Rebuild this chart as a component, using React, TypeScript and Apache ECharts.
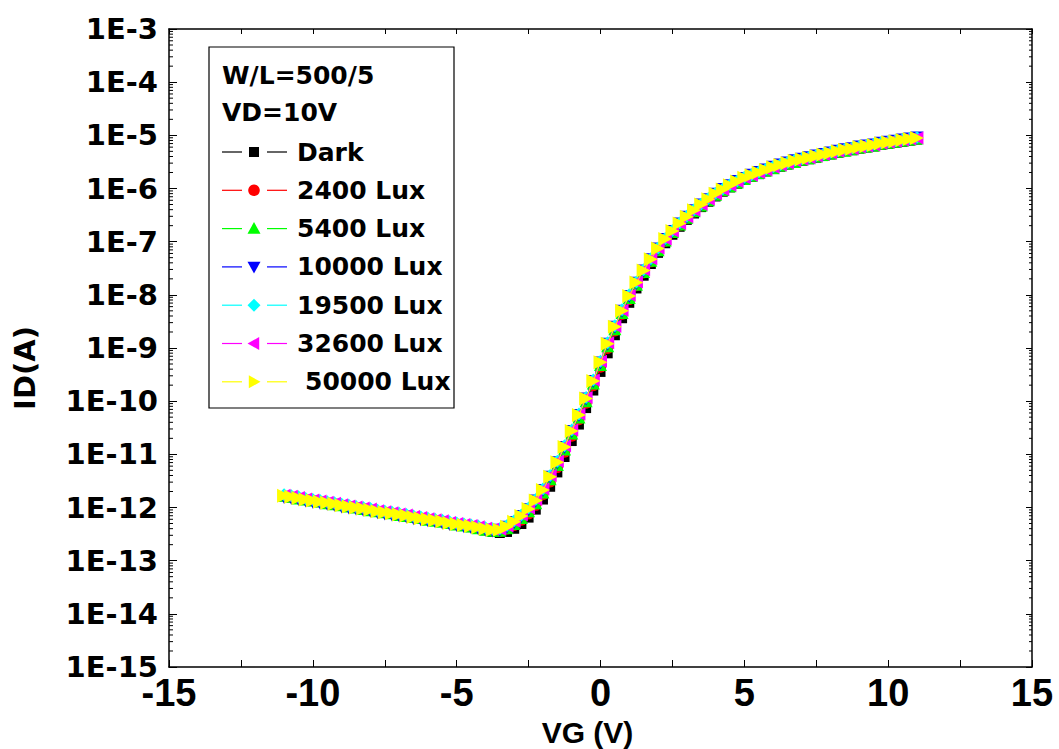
import React, { useEffect, useRef } from "react";
import * as echarts from "echarts";

// Gate voltage (V)
const VG = [
  -11, -10.75, -10.5, -10.25, -10, -9.75, -9.5, -9.25, -9, -8.75, -8.5, -8.25, -8, -7.75, -7.5, -7.25,
  -7, -6.75, -6.5, -6.25, -6, -5.75, -5.5, -5.25, -5, -4.75, -4.5, -4.25, -4, -3.75, -3.5, -3.25,
  -3, -2.75, -2.5, -2.25, -2, -1.75, -1.5, -1.25, -1, -0.75, -0.5, -0.25, 0, 0.25, 0.5, 0.75,
  1, 1.25, 1.5, 1.75, 2, 2.25, 2.5, 2.75, 3, 3.25, 3.5, 3.75, 4, 4.25, 4.5, 4.75,
  5, 5.25, 5.5, 5.75, 6, 6.25, 6.5, 6.75, 7, 7.25, 7.5, 7.75, 8, 8.25, 8.5, 8.75,
  9, 9.25, 9.5, 9.75, 10, 10.25, 10.5, 10.75, 11,
];

// log10(ID / A) for each illumination level
const DARK = [
  -11.79, -11.81, -11.83, -11.86, -11.88, -11.90, -11.92, -11.94, -11.97, -11.99, -12.01, -12.03, -12.05, -12.08, -12.10, -12.12,
  -12.14, -12.16, -12.19, -12.21, -12.23, -12.25, -12.27, -12.30, -12.32, -12.34, -12.37, -12.40, -12.43,
  -12.46, -12.48, -12.46, -12.40, -12.31, -12.19, -12.04, -11.85, -11.61, -11.34, -11.05, -10.75, -10.44, -10.13, -9.80,
  -9.45, -9.10, -8.76, -8.44, -8.15, -7.88, -7.64, -7.42, -7.21, -7.03, -6.87, -6.72, -6.59, -6.47, -6.35, -6.25, -6.15,
  -6.06, -5.98, -5.91, -5.84, -5.78, -5.73, -5.68, -5.63, -5.59, -5.55, -5.51, -5.48, -5.45, -5.42, -5.39, -5.36,
  -5.33, -5.30, -5.28, -5.25, -5.23, -5.21, -5.18, -5.16, -5.14, -5.12, -5.10, -5.08,
];
const LUX_2400 = [
  -11.78, -11.80, -11.83, -11.85, -11.87, -11.89, -11.92, -11.94, -11.96, -11.98, -12.00, -12.03, -12.05, -12.07, -12.09, -12.11,
  -12.14, -12.16, -12.18, -12.20, -12.23, -12.25, -12.27, -12.29, -12.32, -12.34, -12.36, -12.39, -12.42,
  -12.44, -12.45, -12.41, -12.34, -12.24, -12.12, -11.96, -11.76, -11.52, -11.25, -10.96, -10.66, -10.35, -10.04, -9.71,
  -9.36, -9.01, -8.68, -8.37, -8.09, -7.83, -7.59, -7.38, -7.17, -6.99, -6.83, -6.69, -6.56, -6.44, -6.33, -6.22, -6.12,
  -6.04, -5.96, -5.89, -5.82, -5.77, -5.71, -5.66, -5.62, -5.57, -5.53, -5.50, -5.46, -5.43, -5.40, -5.37, -5.34,
  -5.31, -5.29, -5.26, -5.24, -5.21, -5.19, -5.17, -5.14, -5.12, -5.10, -5.08, -5.06,
];
const LUX_5400 = [
  -11.77, -11.79, -11.82, -11.84, -11.86, -11.88, -11.91, -11.93, -11.95, -11.97, -11.99, -12.02, -12.04, -12.06, -12.08, -12.10,
  -12.13, -12.15, -12.17, -12.19, -12.22, -12.24, -12.26, -12.28, -12.31, -12.33, -12.35, -12.38, -12.41,
  -12.43, -12.43, -12.38, -12.30, -12.19, -12.06, -11.91, -11.71, -11.46, -11.19, -10.90, -10.60, -10.30, -9.99, -9.66,
  -9.31, -8.96, -8.64, -8.33, -8.05, -7.80, -7.56, -7.35, -7.15, -6.97, -6.81, -6.67, -6.54, -6.42, -6.31, -6.21, -6.11,
  -6.02, -5.95, -5.88, -5.81, -5.75, -5.70, -5.65, -5.61, -5.56, -5.52, -5.49, -5.45, -5.42, -5.39, -5.36, -5.33,
  -5.30, -5.28, -5.25, -5.22, -5.20, -5.18, -5.15, -5.13, -5.11, -5.09, -5.07, -5.05,
];
const LUX_10000 = [
  -11.81, -11.83, -11.85, -11.88, -11.90, -11.92, -11.94, -11.96, -11.99, -12.01, -12.03, -12.05, -12.07, -12.10, -12.12, -12.14,
  -12.16, -12.18, -12.21, -12.23, -12.25, -12.27, -12.29, -12.32, -12.34, -12.36, -12.38, -12.40, -12.43,
  -12.44, -12.43, -12.37, -12.28, -12.17, -12.04, -11.88, -11.68, -11.43, -11.16, -10.87, -10.57, -10.27, -9.96, -9.63,
  -9.28, -8.93, -8.61, -8.31, -8.03, -7.78, -7.55, -7.34, -7.14, -6.96, -6.81, -6.67, -6.54, -6.42, -6.31, -6.21, -6.11,
  -6.02, -5.95, -5.87, -5.81, -5.75, -5.70, -5.65, -5.60, -5.56, -5.52, -5.48, -5.45, -5.42, -5.39, -5.36, -5.33,
  -5.30, -5.27, -5.25, -5.22, -5.20, -5.18, -5.15, -5.13, -5.11, -5.09, -5.07, -5.05,
];
const LUX_19500 = [
  -11.76, -11.78, -11.80, -11.83, -11.85, -11.87, -11.89, -11.91, -11.94, -11.96, -11.98, -12.00, -12.02, -12.05, -12.07, -12.09,
  -12.11, -12.13, -12.16, -12.18, -12.20, -12.22, -12.24, -12.27, -12.29, -12.31, -12.33, -12.35, -12.38,
  -12.40, -12.40, -12.34, -12.25, -12.14, -12.01, -11.85, -11.65, -11.40, -11.13, -10.84, -10.54, -10.24, -9.93, -9.60,
  -9.25, -8.90, -8.58, -8.28, -8.00, -7.76, -7.53, -7.32, -7.12, -6.94, -6.79, -6.65, -6.52, -6.40, -6.29, -6.19, -6.09,
  -6.01, -5.93, -5.86, -5.79, -5.74, -5.69, -5.64, -5.59, -5.55, -5.51, -5.47, -5.44, -5.41, -5.38, -5.35, -5.32,
  -5.29, -5.26, -5.24, -5.21, -5.19, -5.17, -5.14, -5.12, -5.10, -5.08, -5.06, -5.04,
];
const LUX_32600 = [
  -11.77, -11.79, -11.81, -11.84, -11.86, -11.88, -11.90, -11.92, -11.95, -11.97, -11.99, -12.01, -12.03, -12.06, -12.08, -12.10,
  -12.12, -12.14, -12.17, -12.19, -12.21, -12.23, -12.25, -12.28, -12.30, -12.32, -12.34, -12.36, -12.39,
  -12.41, -12.41, -12.35, -12.26, -12.14, -12.01, -11.85, -11.65, -11.40, -11.13, -10.84, -10.54, -10.24, -9.93, -9.60,
  -9.25, -8.90, -8.59, -8.29, -8.01, -7.76, -7.53, -7.32, -7.12, -6.95, -6.80, -6.66, -6.53, -6.41, -6.30, -6.20, -6.10,
  -6.02, -5.94, -5.87, -5.80, -5.75, -5.70, -5.65, -5.60, -5.56, -5.52, -5.48, -5.45, -5.42, -5.39, -5.36, -5.33,
  -5.30, -5.27, -5.25, -5.22, -5.20, -5.18, -5.15, -5.13, -5.11, -5.09, -5.07, -5.05,
];
const LUX_50000 = [
  -11.78, -11.80, -11.82, -11.85, -11.87, -11.89, -11.91, -11.93, -11.96, -11.98, -12.00, -12.02, -12.04, -12.07, -12.09, -12.11,
  -12.13, -12.15, -12.18, -12.20, -12.22, -12.24, -12.26, -12.29, -12.31, -12.33, -12.35, -12.37, -12.40,
  -12.42, -12.42, -12.36, -12.27, -12.16, -12.03, -11.87, -11.67, -11.42, -11.15, -10.86, -10.56, -10.26, -9.95, -9.62,
  -9.27, -8.92, -8.60, -8.30, -8.02, -7.77, -7.54, -7.33, -7.13, -6.95, -6.80, -6.66, -6.53, -6.41, -6.30, -6.20, -6.10,
  -6.02, -5.94, -5.87, -5.80, -5.75, -5.70, -5.65, -5.60, -5.56, -5.52, -5.48, -5.45, -5.42, -5.39, -5.36, -5.33,
  -5.30, -5.27, -5.25, -5.22, -5.20, -5.18, -5.15, -5.13, -5.11, -5.09, -5.07, -5.05,
];

const SERIES_NAMES = ["Dark", "2400 Lux", "5400 Lux", "10000 Lux", "19500 Lux", "32600 Lux", "50000 Lux"];
const SERIES_DATA = [DARK, LUX_2400, LUX_5400, LUX_10000, LUX_19500, LUX_32600, LUX_50000];
const COLORS = ["#000000", "#ff0000", "#00ff00", "#0000ff", "#00ffff", "#ff00ff", "#ffff00"];
const MARKERS = ["square", "circle", "up", "down", "diamond", "left", "right"];

const LEGEND_TITLE = ["W/L=500/5", "VD=10V"];
const X_MIN = -15;
const X_MAX = 15;
const X_STEP = 2.5;
const Y_MIN_EXP = -15;
const Y_MAX_EXP = -3;
const MINOR_MULTS = [2, 3, 4, 5, 6, 7, 8, 9];

const LABEL_FONT = '"DejaVu Sans", "Liberation Sans", Arial, sans-serif';
const X_FONT = '"Liberation Sans", Arial, sans-serif';

function symbolFor(kind: string) {
  switch (kind) {
    case "square":
      return { symbol: "rect", symbolSize: 10, symbolRotate: 0 };
    case "circle":
      return { symbol: "circle", symbolSize: 11, symbolRotate: 0 };
    case "up":
      return { symbol: "triangle", symbolSize: 13, symbolRotate: 0 };
    case "down":
      return { symbol: "triangle", symbolSize: 13, symbolRotate: 180 };
    case "diamond":
      return { symbol: "diamond", symbolSize: 13, symbolRotate: 0 };
    case "left":
      return { symbol: "triangle", symbolSize: 13, symbolRotate: 90 };
    default:
      return { symbol: "triangle", symbolSize: 14, symbolRotate: -90 };
  }
}

function legendMarker(kind: string, cx: number, cy: number, color: string) {
  const s = 6.5;
  const style = { fill: color };
  switch (kind) {
    case "square":
      return { type: "rect", shape: { x: cx - 5, y: cy - 5, width: 10, height: 10 }, style };
    case "circle":
      return { type: "circle", shape: { cx, cy, r: 5.8 }, style };
    case "up":
      return { type: "polygon", shape: { points: [[cx, cy - s], [cx + s, cy + s * 0.8], [cx - s, cy + s * 0.8]] }, style };
    case "down":
      return { type: "polygon", shape: { points: [[cx, cy + s], [cx + s, cy - s * 0.8], [cx - s, cy - s * 0.8]] }, style };
    case "diamond":
      return { type: "polygon", shape: { points: [[cx, cy - s], [cx + s, cy], [cx, cy + s], [cx - s, cy]] }, style };
    case "left":
      return { type: "polygon", shape: { points: [[cx - s, cy], [cx + s * 0.8, cy - s], [cx + s * 0.8, cy + s]] }, style };
    default:
      return { type: "polygon", shape: { points: [[cx + s, cy], [cx - s * 0.8, cy - s], [cx - s * 0.8, cy + s]] }, style };
  }
}

export default function App() {
  const ref = useRef<HTMLDivElement>(null);

  useEffect(() => {
    if (!ref.current) return;
    const chart = echarts.init(ref.current, null, { renderer: "svg" });

    const yMin = Math.pow(10, Y_MIN_EXP);
    const yMax = Math.pow(10, Y_MAX_EXP);

    const minorTickValues: number[][] = [];
    for (let e = Y_MIN_EXP; e < Y_MAX_EXP; e++) {
      for (const m of MINOR_MULTS) minorTickValues.push([0, m * Math.pow(10, e)]);
    }

    const dataSeries = SERIES_NAMES.map((name, i) => {
      const sym = symbolFor(MARKERS[i]);
      return {
        name,
        type: "line",
        data: VG.map((v, k) => [v, Math.pow(10, SERIES_DATA[i][k])]),
        ...sym,
        showSymbol: true,
        showAllSymbol: true,
        lineStyle: { color: COLORS[i], width: 1 },
        itemStyle: { color: COLORS[i], borderWidth: 0 },
        emphasis: { disabled: true },
        silent: true,
        z: 3 + i,
      };
    });

    const minorTicks = {
      type: "custom",
      silent: true,
      z: 1,
      data: minorTickValues,
      clip: false,
      renderItem: (params: any, api: any) => {
        const v = api.value(1);
        const pL = api.coord([X_MIN, v]);
        const pR = api.coord([X_MAX, v]);
        return {
          type: "group",
          children: [
            { type: "line", shape: { x1: pL[0], y1: pL[1], x2: pL[0] + 4, y2: pL[1] }, style: { stroke: "#000", lineWidth: 1 } },
            { type: "line", shape: { x1: pR[0] - 3, y1: pR[1], x2: pR[0], y2: pR[1] }, style: { stroke: "#000", lineWidth: 1 } },
          ],
        };
      },
    };

    const legendTop = 152;
    const legendStep = 38.3;
    const legendChildren: any[] = [
      { type: "rect", shape: { x: 209, y: 47, width: 245, height: 361 }, style: { fill: "#fff", stroke: "#000", lineWidth: 1.2 } },
      ...LEGEND_TITLE.map((t, i) => ({
        type: "text",
        style: { text: t, x: 222, y: 75 + i * 37, fill: "#000", font: `bold 25px ${LABEL_FONT}`, verticalAlign: "middle" },
      })),
    ];
    SERIES_NAMES.forEach((name, i) => {
      const cy = legendTop + i * legendStep;
      legendChildren.push(
        { type: "line", shape: { x1: 222, y1: cy, x2: 242, y2: cy }, style: { stroke: COLORS[i], lineWidth: 1.2 } },
        { type: "line", shape: { x1: 267, y1: cy, x2: 287, y2: cy }, style: { stroke: COLORS[i], lineWidth: 1.2 } },
        legendMarker(MARKERS[i], 254, cy, COLORS[i]),
        {
          type: "text",
          style: { text: name, x: i === 6 ? 305 : 297, y: cy, fill: "#000", font: `bold 25px ${LABEL_FONT}`, verticalAlign: "middle" },
        }
      );
    });

    const option: any = {
      animation: false,
      backgroundColor: "#ffffff",
      grid: { left: 169, top: 29, right: 27, bottom: 82, containLabel: false, outerBoundsMode: "none" },
      xAxis: [
        {
          type: "value",
          min: X_MIN,
          max: X_MAX,
          interval: X_STEP,
          name: "VG (V)",
          nameLocation: "middle",
          nameGap: 44,
          nameTextStyle: { fontFamily: X_FONT, fontWeight: "bold", fontSize: 30, lineHeight: 32, color: "#000", padding: [0, 26, 0, 0] },
          axisLine: { show: true, onZero: false, lineStyle: { color: "#000", width: 1.5 } },
          axisTick: { show: true, inside: true, length: 7, lineStyle: { color: "#000", width: 1 } },
          axisLabel: {
            show: true,
            margin: 7,
            fontFamily: X_FONT,
            fontWeight: "bold",
            fontSize: 38,
            color: "#000",
            formatter: (v: number) => (v % 5 === 0 ? String(v) : ""),
          },
          splitLine: { show: false },
        },
        {
          type: "value",
          position: "top",
          min: X_MIN,
          max: X_MAX,
          interval: X_STEP,
          axisLine: { show: true, onZero: false, lineStyle: { color: "#000", width: 1.5 } },
          axisTick: { show: true, inside: true, length: 5, lineStyle: { color: "#000", width: 1 } },
          axisLabel: { show: false },
          splitLine: { show: false },
        },
      ],
      yAxis: [
        {
          type: "log",
          logBase: 10,
          min: yMin,
          max: yMax,
          interval: 1,
          name: "ID(A)",
          nameLocation: "middle",
          nameGap: 130,
          nameRotate: 90,
          nameTextStyle: { fontFamily: LABEL_FONT, fontWeight: "bold", fontSize: 29, color: "#000", padding: [0, 40, 0, 0] },
          axisLine: { show: true, onZero: false, lineStyle: { color: "#000", width: 1.5 } },
          axisTick: { show: true, inside: true, length: 8, lineStyle: { color: "#000", width: 1 } },
          axisLabel: {
            show: true,
            margin: 11,
            fontFamily: LABEL_FONT,
            fontWeight: "bold",
            fontSize: 29,
            color: "#000",
            formatter: (v: number) => "1E" + Math.round(Math.log10(v)),
          },
          splitLine: { show: false },
        },
        {
          type: "log",
          logBase: 10,
          position: "right",
          min: yMin,
          max: yMax,
          interval: 1,
          axisLine: { show: true, onZero: false, lineStyle: { color: "#000", width: 1.5 } },
          axisTick: { show: true, inside: true, length: 6, lineStyle: { color: "#000", width: 1 } },
          axisLabel: { show: false },
          splitLine: { show: false },
        },
      ],
      series: [minorTicks, ...dataSeries],
      graphic: [{ type: "group", z: 100, children: legendChildren }],
    };

    chart.setOption(option);
    return () => chart.dispose();
  }, []);

  return <div ref={ref} style={{ position: "fixed", left: 0, top: 0, width: 1059, height: 749 }} />;
}
